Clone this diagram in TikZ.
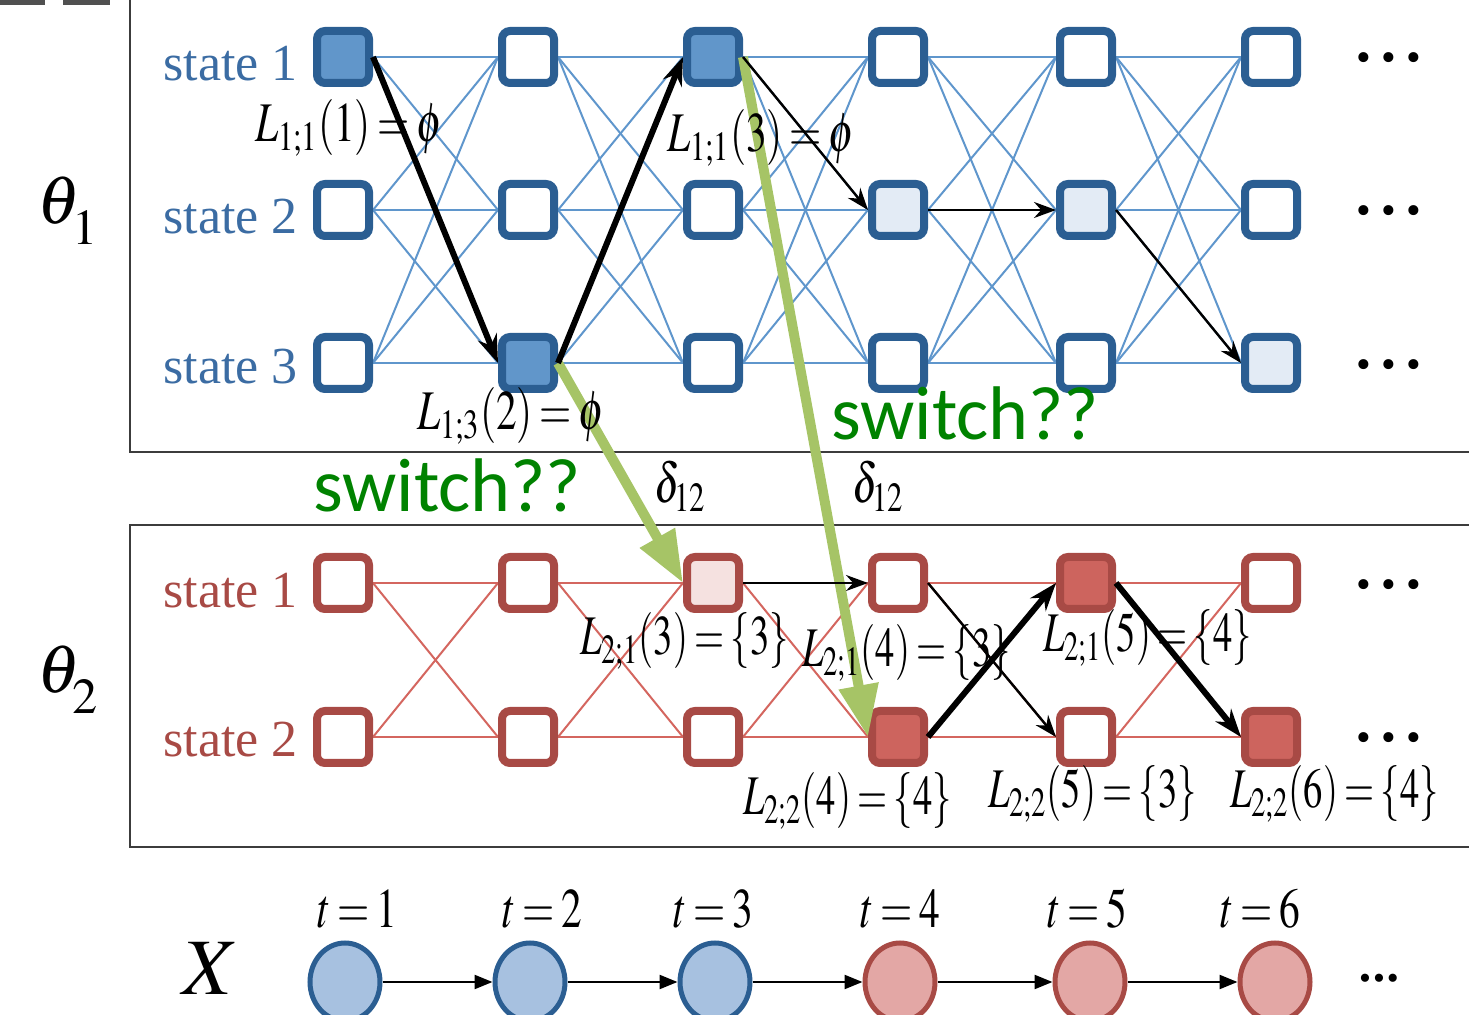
\documentclass[tikz,border=0pt]{standalone}
\usepackage{mathptmx}
\usepackage[no-math]{fontspec}
\setmainfont{Liberation Serif}
\newfontfamily\swfont{Carlito}
\usetikzlibrary{arrows.meta,shapes.geometric,backgrounds}
\definecolor{bbord}{RGB}{43,94,146}
\definecolor{bdark}{RGB}{97,150,202}
\definecolor{blight}{RGB}{227,235,245}
\definecolor{blinec}{RGB}{95,150,204}
\definecolor{btext}{RGB}{59,108,163}
\definecolor{rbord}{RGB}{168,74,69}
\definecolor{rdark}{RGB}{205,100,94}
\definecolor{rlight}{RGB}{245,225,224}
\definecolor{rlinec}{RGB}{212,102,95}
\definecolor{rtext}{RGB}{168,74,69}
\definecolor{bcircf}{RGB}{167,193,224}
\definecolor{rcircf}{RGB}{227,167,165}
\definecolor{swgreen}{RGB}{0,130,0}
\definecolor{garrow}{RGB}{166,196,102}
\definecolor{boxgray}{RGB}{60,60,60}
\definecolor{markgray}{RGB}{80,80,80}
\newcommand{\lbl}[1]{\scalebox{0.74}[1]{$\thickmuskip=3mu #1$}}
\newcommand{\lblb}[1]{\scalebox{0.69}[1]{$\thickmuskip=3mu #1$}}
\newcommand{\lowsub}[1]{\raisebox{-5pt}{$\scriptstyle #1$}}
\begin{document}
\begin{tikzpicture}[x=0.5pt,y=-0.5pt,
 sbox/.style={rectangle,rounded corners=4pt,minimum size=26pt,inner sep=0pt,line width=4pt},
 bsq/.style={sbox,draw=bbord},
 rsq/.style={sbox,draw=rbord},
 tline/.style={line width=1pt,color=blinec},
 rtl/.style={line width=1pt,color=rlinec},
 smallarr/.style={line width=1.2pt,-{Stealth[length=11pt,width=8pt]}},
 bigarr/.style={line width=3pt,-{Stealth[length=14pt,width=10pt]}},
 garr/.style={line width=5pt,color=garrow,-{Triangle[length=26pt,width=19pt]}},
 stlbl/.style={anchor=base east,font=\fontsize{26}{26}\selectfont},
 mlbl/.style={anchor=base west,font=\fontsize{28}{28}\selectfont},
 sw/.style={anchor=base west,text=swgreen,font=\swfont\fontsize{38}{38}\selectfont},
 dotsl/.style={font=\fontsize{21}{21}\selectfont},
 circ/.style={ellipse,minimum width=35pt,minimum height=39pt,line width=2.5pt,inner sep=0pt},
 bcirc/.style={circ,draw=bbord,fill=bcircf},
 rcirc/.style={circ,draw=rbord,fill=rcircf},
 carr/.style={line width=1.2pt,-{Triangle[length=9pt,width=7pt]}},
 boxl/.style={draw=boxgray,line width=1pt}
]
\useasboundingbox (0,0) rectangle (1469,1015);
\clip (0,0) rectangle (1469,1015);

% marks top-left
\fill[markgray] (0,-5) rectangle (45,5);
\fill[markgray] (63,-5) rectangle (110,5);

% boxes
\draw[boxl] (130,-10) rectangle (1480,452);
\draw[boxl] (130,525) rectangle (1480,847);

% state nodes
\foreach \c/\x/\fa/\fb/\fc/\fd/\fe in {
 1/343/bdark/white/white/white/white,
 2/528/white/white/bdark/white/white,
 3/713/bdark/white/white/rlight/white,
 4/898/white/blight/white/white/rdark,
 5/1086/white/blight/white/rdark/white,
 6/1271/white/white/blight/white/rdark}
{
 \node[bsq,fill=\fa] (a\c1) at (\x,57) {};
 \node[bsq,fill=\fb] (a\c2) at (\x,210) {};
 \node[bsq,fill=\fc] (a\c3) at (\x,363) {};
 \node[rsq,fill=\fd] (b\c1) at (\x,583) {};
 \node[rsq,fill=\fe] (b\c2) at (\x,737) {};
}

% trellis
\begin{scope}[on background layer]
\foreach \c in {1,...,5} {
 \pgfmathtruncatemacro{\n}{\c+1}
 \foreach \i in {1,2,3} \foreach \j in {1,2,3} \draw[tline] (a\c\i.east) -- (a\n\j.west);
 \foreach \i in {1,2} \foreach \j in {1,2} \draw[rtl] (b\c\i.east) -- (b\n\j.west);
}
\end{scope}

% green switch arrows
\draw[garr] (a23.east) -- (b31.west);
\draw[garr] (a31.east) -- (b42.west);

% black path arrows
\draw[bigarr] (a11.east) -- (a23.west);
\draw[bigarr] (a23.east) -- (a31.west);
\draw[smallarr] (a31.east) -- (a42.west);
\draw[smallarr] (a42.east) -- (a52.west);
\draw[smallarr] (a52.east) -- (a63.west);
\draw[smallarr] (b31.east) -- (b41.west);
\draw[smallarr] (b41.east) -- (b52.west);
\draw[bigarr] (b42.east) -- (b51.west);
\draw[bigarr] (b51.east) -- (b62.west);

% state labels
\node[stlbl,text=btext] (s11) at (305,81) {state 1};
\node[stlbl,text=btext] (s12) at (305,234) {state 2};
\node[stlbl,text=btext] (s13) at (305,384) {state 3};
\node[stlbl,text=rtext] (s21) at (305,608) {state 1};
\node[stlbl,text=rtext] (s22) at (305,757) {state 2};

% theta labels
\node[anchor=base west,font=\fontsize{34}{34}\selectfont] (th1) at (30,224) {$\theta_{\lowsub{1}}$};
\node[anchor=base west,font=\fontsize{34}{34}\selectfont] (th2) at (30,693) {$\theta_{\lowsub{2}}$};

% L labels
\node[mlbl] (l1) at (248,142) {\lbl{L_{1;1}(1)=\phi}};
\node[mlbl] (l2) at (660,152) {\lbl{L_{1;1}(3)=\phi}};
\node[mlbl] (l3) at (410,430) {\lbl{L_{1;3}(2)=\phi}};
\node[mlbl] (l4) at (573,655) {\lblb{L_{2;1}(3)=\{3\}}};
\node[mlbl] (l5) at (795,667) {\lblb{L_{2;1}(4)=\{3\}}};
\node[mlbl] (l6) at (1036,652) {\lblb{L_{2;1}(5)=\{4\}}};
\node[mlbl] (l7) at (736,815) {\lblb{L_{2;2}(4)=\{4\}}};
\node[mlbl] (l8) at (981,808) {\lblb{L_{2;2}(5)=\{3\}}};
\node[mlbl] (l9) at (1223,808) {\lblb{L_{2;2}(6)=\{4\}}};

% delta labels
\node[mlbl] (d1) at (647,503) {\lbl{\delta_{12}}};
\node[mlbl] (d2) at (845,503) {\lbl{\delta_{12}}};

% switch labels
\node[sw] (sw1) at (306,512) {switch??};
\node[sw] (sw2) at (824,440) {switch??};

% dots
\foreach \y [count=\k] in {62,215,369,589,742}
 \node[dotsl] (dt\k) at (1389,\y) {\textbullet\hspace{5pt}\textbullet\hspace{5pt}\textbullet};
\node[font=\fontsize{17}{17}\selectfont] (dtc) at (1379,982) {\textbullet\hspace{1pt}\textbullet\hspace{1pt}\textbullet};

% observation chain
\node[anchor=base west,font=\fontsize{40}{40}\selectfont] (xl) at (175,995) {$X$};
\node[bcirc] (c1) at (345,982) {};
\node[bcirc] (c2) at (530,982) {};
\node[bcirc] (c3) at (715,982) {};
\node[rcirc] (c4) at (900,982) {};
\node[rcirc] (c5) at (1090,982) {};
\node[rcirc] (c6) at (1275,982) {};
\draw[carr] (c1.east) -- (c2.west);
\draw[carr] (c2.east) -- (c3.west);
\draw[carr] (c3.east) -- (c4.west);
\draw[carr] (c4.east) -- (c5.west);
\draw[carr] (c5.east) -- (c6.west);

\node[mlbl] (t1) at (310,928) {\lbl{t=1}};
\node[mlbl] (t2) at (495,928) {\lbl{t=2}};
\node[mlbl] (t3) at (666,928) {\lbl{t=3}};
\node[mlbl] (t4) at (853,928) {\lbl{t=4}};
\node[mlbl] (t5) at (1040,928) {\lbl{t=5}};
\node[mlbl] (t6) at (1213,928) {\lbl{t=6}};
\end{tikzpicture}
\end{document}
